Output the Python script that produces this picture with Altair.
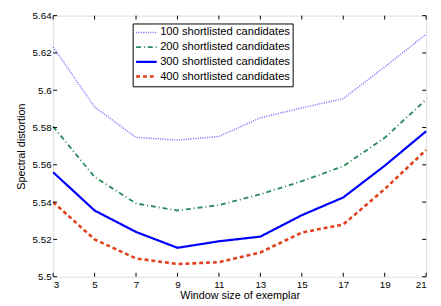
import altair as alt
import pandas as pd

windows = [3, 5, 7, 9, 11, 13, 15, 17, 19, 21]
s100 = [5.6232, 5.5910, 5.5747, 5.5733, 5.5752, 5.5852, 5.5905, 5.5955, 5.6125, 5.6300]
s200 = [5.5805, 5.5535, 5.5393, 5.5355, 5.5384, 5.5442, 5.5512, 5.5593, 5.5745, 5.5950]
s300 = [5.5560, 5.5355, 5.5240, 5.5155, 5.5190, 5.5215, 5.5330, 5.5425, 5.5595, 5.5780]
s400 = [5.5400, 5.5200, 5.5098, 5.5068, 5.5078, 5.5130, 5.5237, 5.5280, 5.5470, 5.5680]
names = ["100 shortlisted candidates", "200 shortlisted candidates",
         "300 shortlisted candidates", "400 shortlisted candidates"]
x_ticks = [3, 5, 7, 9, 11, 13, 15, 17, 19, 21]
y_ticks = [5.5, 5.52, 5.54, 5.56, 5.58, 5.6, 5.62, 5.64]

rows = []
for name, vals in zip(names, [s100, s200, s300, s400]):
    for w, v in zip(windows, vals):
        rows.append({"window": w, "value": v, "series": name})
df = pd.DataFrame(rows)

colors = ["#8080ff", "#2a8a5a", "#0000ff", "#e0401c"]
dashes = [[1.2, 1.2], [5, 3, 1, 3], [1, 0], [4, 3]]
widths = [1.5, 2.6, 2.6, 2.6]

FONT = "Liberation Sans"
FS = 11.8
W, H = 380, 266

xs = alt.Scale(domain=[3, 21], nice=False, zero=False)
ys = alt.Scale(domain=[5.5, 5.64], nice=False, zero=False)

xaxis = alt.Axis(values=x_ticks, title="Window size of exemplar", grid=False,
                 domain=False, ticks=False, labelPadding=3, labelOverlap=False,
                 titleY=22, titleBaseline="alphabetic", titleFontWeight="normal")
yaxis = alt.Axis(values=y_ticks, format=".2~f", title="Spectral distortion",
                 grid=False, domain=False, ticks=False, labelPadding=2,
                 labelOverlap=False, labelFlush=False,
                 titleX=-29, titleY=H / 2, titleBaseline="alphabetic",
                 titleFontWeight="normal")

leg = alt.Legend(title=None, orient="none", legendX=81, legendY=8,
                 fillColor="white", strokeColor="black", padding=2,
                 symbolType="stroke", symbolSize=441, labelFontSize=11.4,
                 labelFont=FONT, labelColor="black", rowPadding=0, clipHeight=14.2,
                 labelOffset=2)

lines = alt.Chart(df).mark_line().encode(
    x=alt.X("window:Q", scale=xs, axis=xaxis),
    y=alt.Y("value:Q", scale=ys, axis=yaxis),
    color=alt.Color("series:N", scale=alt.Scale(domain=names, range=colors), legend=leg),
    strokeDash=alt.StrokeDash("series:N", scale=alt.Scale(domain=names, range=dashes), legend=leg),
    strokeWidth=alt.StrokeWidth("series:N", scale=alt.Scale(domain=names, range=widths), legend=leg),
)

xt = pd.DataFrame({"t": x_ticks})
yt = pd.DataFrame({"t": y_ticks})
tick_style = dict(color="black", strokeWidth=1)
bt = alt.Chart(xt).mark_rule(**tick_style).encode(x=alt.X("t:Q", scale=xs, axis=xaxis), y=alt.value(H), y2=alt.value(H - 4))
tt = alt.Chart(xt).mark_rule(**tick_style).encode(x=alt.X("t:Q", scale=xs, axis=xaxis), y=alt.value(0), y2=alt.value(4))
lt = alt.Chart(yt).mark_rule(**tick_style).encode(y=alt.Y("t:Q", scale=ys, axis=yaxis), x=alt.value(0), x2=alt.value(4))
rt = alt.Chart(yt).mark_rule(**tick_style).encode(y=alt.Y("t:Q", scale=ys, axis=yaxis), x=alt.value(W), x2=alt.value(W - 4))

chart = alt.layer(lines, bt, tt, lt, rt).properties(
    width=W, height=H,
    autosize=alt.AutoSizeParams(type="none"),
    padding={"left": 46, "top": 5, "right": 7, "bottom": 24},
).configure_view(stroke="black", strokeWidth=1).configure_axis(
    labelFont=FONT, titleFont=FONT, labelFontSize=FS, titleFontSize=FS,
    labelColor="black", titleColor="black",
).configure(background="white")

chart.save("out.html", embed_options={"renderer": "svg", "actions": False})
